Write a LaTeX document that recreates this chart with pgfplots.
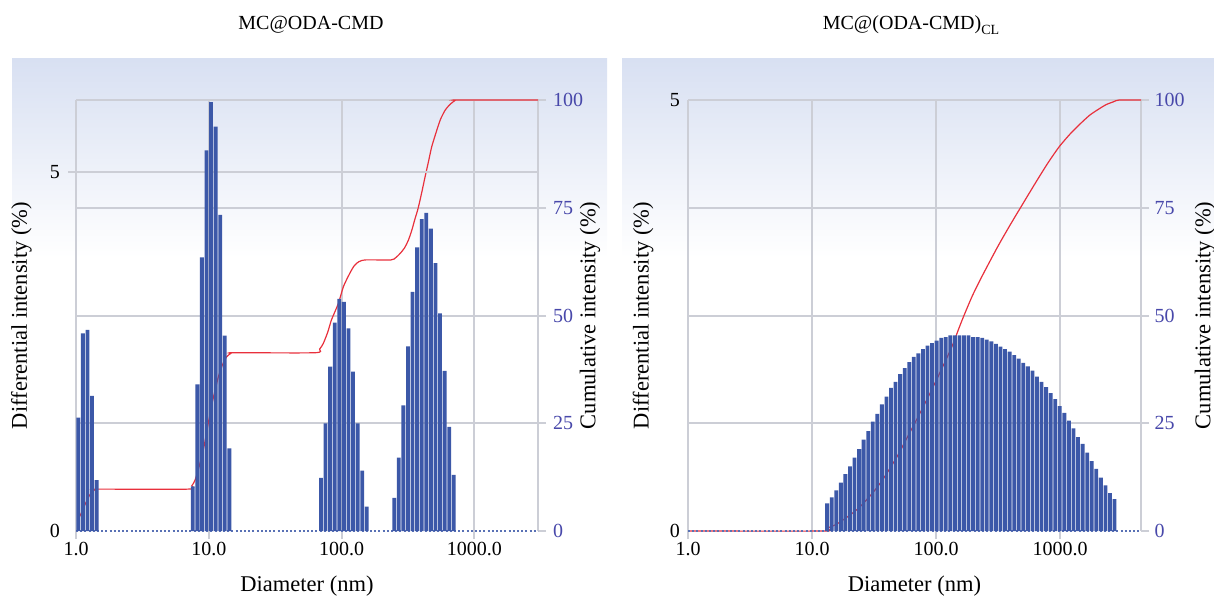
\documentclass[border=0pt]{standalone}
\usepackage{pgfplots}
\pgfplotsset{compat=1.18}
\usepackage{fontspec}
\setmainfont{Liberation Serif}
\definecolor{barblue}{RGB}{60,88,168}
\definecolor{redline}{RGB}{232,48,60}
\definecolor{gridgray}{RGB}{204,206,214}
\definecolor{tickblue}{RGB}{72,72,170}
\definecolor{bgblue}{RGB}{216,224,242}
\pgfplotsset{
  base/.style={scale only axis, anchor=south west, height=431pt,
    ymin=0, axis line style={draw=none}, clip=false,
    tick style={draw=gridgray, line width=2pt},
    major tick length=8pt, tick align=outside,
    grid style={draw=gridgray, line width=2pt},
    ticklabel style={font=\fontsize{20}{24}\selectfont},
    label style={font=\fontsize{22.5}{27}\selectfont},
    /pgf/number format/assume math mode=true},
  cumul/.style={base, xmin=0, ymax=100, xtick pos=bottom,
    extra x tick labels={}, extra x tick style={grid=major, tick style={draw=none}},
    xmajorgrids, ymajorgrids,
    ytick={25,50,75,100}, extra y ticks={0}, extra y tick style={grid=none},
    ytick pos=right, yticklabel pos=right,
    yticklabel style={text=tickblue},
    xlabel={Diameter (nm)}, ylabel={Cumulative intensity (\%)}},
  diff/.style={base, xmin=0, xtick=\empty, ytick pos=left,
    extra y ticks={0}, extra y tick style={grid=none, tick style={draw=none}},
    ylabel={Differential intensity (\%)}},
}
\begin{document}
\begin{tikzpicture}
\useasboundingbox (0pt,0pt) rectangle (1214pt,598pt);
\shade[top color=bgblue, bottom color=white] (12pt,340pt) rectangle (607pt,539pt);
\shade[top color=bgblue, bottom color=white] (622pt,340pt) rectangle (1214pt,539pt);
\node[font=\fontsize{20}{24}\selectfont, anchor=base] at (311pt,568pt) {MC@ODA-CMD};
\node[font=\fontsize{20}{24}\selectfont, anchor=base] at (911pt,568pt) {MC@(ODA-CMD)\raisebox{-0.45ex}{\fontsize{14}{16}\selectfont CL}};

% ---------------- left panel ----------------
\begin{axis}[cumul, at={(76pt,67pt)}, width=462pt, xmax=100.9,
  xtick={0,29,58,87}, xticklabels={1.0,10.0,100.0,1000.0},
  extra x ticks={100.9},
  yticklabel style={xshift=3.5pt},
  xlabel style={at={(axis description cs:0.5,-0.1276)}, anchor=center},
  ylabel style={at={(axis description cs:1.1126,0.5)}, anchor=center}]
\addplot[redline, line width=1.2pt, smooth, tension=0.4] coordinates {
(0.3,2.4) (1.0,3.8) (2.0,6.2) (2.9,8.2) (3.6,9.2) (4.3,9.65) (4.8,9.72)
(24.5,9.72) (25.3,10.5) (26,11.8) (26.9,15) (27.9,19.3) (28.8,24.5) (29.8,30)
(30.5,33.2) (31.1,35.8) (32.0,38.6) (32.9,40.4) (33.8,41.2) (34.5,41.36)
(52.2,41.36) (53.2,42.2) (54.0,43.5) (55.0,46.2) (55.8,49.0) (57.3,52.8)
(58.4,56.7) (59.8,59.8) (60.8,61.6) (61.8,62.5) (63.3,62.9) (68.8,62.9)
(69.8,63.4) (70.7,64.3) (71.7,65.6) (72.6,67.5) (73.4,70) (74.0,72.3)
(74.7,74.8) (75.5,78.5) (76.2,82) (77.0,85.8) (77.7,89.2) (78.8,93.0)
(79.6,95.5) (80.6,97.6) (81.7,99.0) (82.8,99.9) (83.3,100) (100.9,100)};
\end{axis}
\begin{axis}[diff, at={(76pt,67pt)}, width=462pt, xmax=100.9, ymax=6,
  ytick={5}, ymajorgrids, yticklabel style={xshift=-4.5pt},
  ylabel style={at={(axis description cs:-0.118,0.5)}, anchor=center}]
\addplot[barblue!85, line width=2pt, dash pattern=on 2pt off 2.2pt] coordinates {(0,0) (100.9,0)};
\addplot[ybar, bar width=0.84, bar shift=0pt, fill=barblue, draw=none] coordinates {
(0.5,1.58)(1.5,2.75)(2.5,2.80)(3.5,1.88)(4.5,0.71)
(25.5,0.62)(26.5,2.04)(27.5,3.81)(28.5,5.30)(29.5,5.97)(30.5,5.63)(31.5,4.40)(32.5,2.72)(33.5,1.15)
(53.5,0.74)(54.5,1.50)(55.5,2.29)(56.5,2.90)(57.5,3.23)(58.5,3.19)(59.5,2.82)(60.5,2.22)(61.5,1.50)(62.5,0.84)(63.5,0.34)
(69.5,0.46)(70.5,1.02)(71.5,1.75)(72.5,2.57)(73.5,3.33)(74.5,3.95)(75.5,4.34)(76.5,4.43)(77.5,4.21)(78.5,3.73)(79.5,3.03)(80.5,2.23)(81.5,1.45)(82.5,0.78)};
\end{axis}

% ---------------- right panel ----------------
\begin{axis}[cumul, at={(688pt,67pt)}, width=453pt, xmax=99.3,
  xtick={0,27.19,54.39,81.58}, xticklabels={1.0,10.0,100.0,1000.0},
  extra x ticks={99.3},
  yticklabel style={xshift=2pt},
  xlabel style={at={(axis description cs:0.5,-0.1276)}, anchor=center},
  ylabel style={at={(axis description cs:1.141,0.5)}, anchor=center}]
\addplot[redline, line width=1.2pt, smooth, tension=0.4] coordinates {
(0,0) (29.7,0) (30.4,0.6) (32.6,1.6) (35.5,3.7) (37.7,5.6) (40.6,9.0)
(42.8,12.1) (45.8,17.2) (47.6,20.8) (49.8,25.2) (52.7,31.2) (54.8,35.8)
(57.7,42.4) (59.3,46.8) (60.3,49.5) (62.3,54.5) (64.4,59.0) (67.8,65.8)
(70.5,70.8) (73.1,75.4) (76.3,81.0) (78.9,85.4) (81.4,89.2) (84.0,92.4)
(86.5,95.0) (88.2,96.6) (89.9,97.8) (91.6,98.9) (93.3,99.6) (94.5,100) (99.3,100)};
\end{axis}
\begin{axis}[diff, at={(688pt,67pt)}, width=453pt, xmax=99.3, ymax=5,
  ytick={5}, yticklabel style={xshift=3.5pt}, tick style={draw=none},
  ylabel style={at={(axis description cs:-0.0993,0.5)}, anchor=center}]
\addplot[barblue!85, line width=2pt, dash pattern=on 2pt off 2.2pt] coordinates {(0,0) (99.3,0)};
\addplot[ybar, bar width=0.84, bar shift=0pt, fill=barblue, draw=none] coordinates {
(30.5,0.32)(31.5,0.39)(32.5,0.47)(33.5,0.56)(34.5,0.66)(35.5,0.75)(36.5,0.85)(37.5,0.95)
(38.5,1.06)(39.5,1.16)(40.5,1.27)(41.5,1.36)(42.5,1.47)(43.5,1.56)(44.5,1.66)(45.5,1.73)
(46.5,1.82)(47.5,1.89)(48.5,1.96)(49.5,2.02)(50.5,2.06)(51.5,2.11)(52.5,2.15)(53.5,2.18)
(54.5,2.21)(55.5,2.24)(56.5,2.25)(57.5,2.27)(58.5,2.27)(59.5,2.27)(60.5,2.27)(61.5,2.27)
(62.5,2.25)(63.5,2.25)(64.5,2.24)(65.5,2.22)(66.5,2.20)(67.5,2.17)(68.5,2.14)(69.5,2.11)
(70.5,2.08)(71.5,2.04)(72.5,2.00)(73.5,1.95)(74.5,1.91)(75.5,1.86)(76.5,1.79)(77.5,1.73)
(78.5,1.67)(79.5,1.60)(80.5,1.53)(81.5,1.45)(82.5,1.37)(83.5,1.28)(84.5,1.19)(85.5,1.09)
(86.5,1.01)(87.5,0.91)(88.5,0.81)(89.5,0.72)(90.5,0.62)(91.5,0.53)(92.5,0.44)(93.5,0.37)};
\end{axis}
\end{tikzpicture}
\end{document}
